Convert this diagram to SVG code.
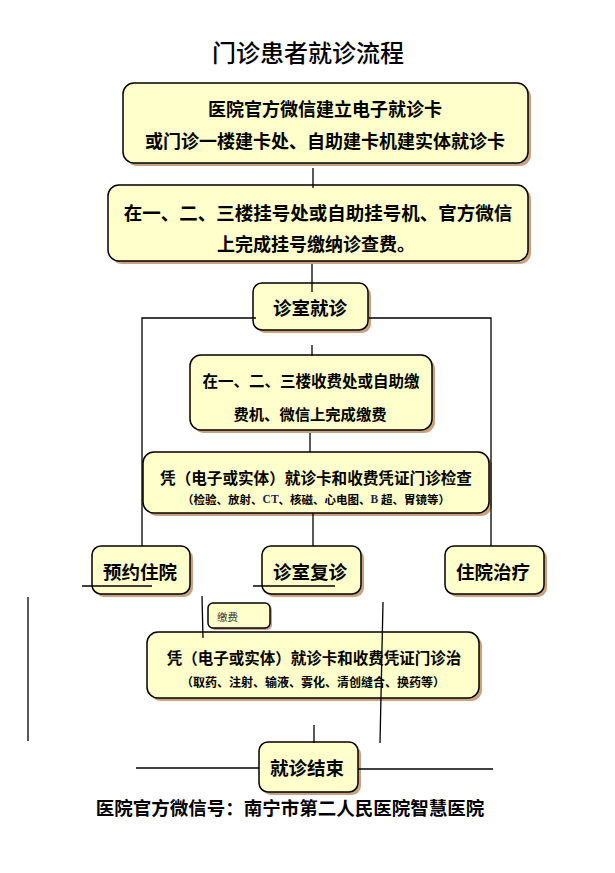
<svg xmlns="http://www.w3.org/2000/svg" width="615" height="873" viewBox="0 0 615 873">
<style>
.bg{fill:#ffffff}
.sh{fill:#c9a280}
.bx{fill:#ffffcc;stroke:#000;stroke-width:1.5}
.t{font-family:"Noto Sans CJK SC","Noto Sans",sans-serif;font-weight:bold;fill:#000;text-anchor:middle;dominant-baseline:central}
.ln{stroke:#000;stroke-width:1.3;fill:none}
.lat{font-family:"Liberation Serif",serif;fill:#1c1c5a}
</style>
<rect class="bg" x="0" y="0" width="615" height="873"/>
<text x="308" y="51" class="t" style="font-weight:500;font-size:24px">门诊患者就诊流程</text>

<g id="n1">
<rect class="sh" x="126" y="86" width="405" height="80" rx="11"/>
<rect class="bx" x="123" y="83" width="405" height="80" rx="11"/>
<text class="t" x="325" y="108" style="font-size:18px">医院官方微信建立电子就诊卡</text>
<text class="t" x="325" y="140" style="font-size:18px">或门诊一楼建卡处、自助建卡机建实体就诊卡</text>
</g>

<g id="n2">
<rect class="sh" x="111" y="188" width="420" height="76" rx="11"/>
<rect class="bx" x="108" y="185" width="420" height="76" rx="11"/>
<text class="t" x="318" y="212" style="font-size:18.5px">在一、二、三楼挂号处或自助挂号机、官方微信</text>
<text class="t" x="316" y="243" style="font-size:18px">上完成挂号缴纳诊查费。</text>
</g>

<g id="n3">
<rect class="sh" x="256" y="286" width="115" height="47" rx="9"/>
<rect class="bx" x="253" y="283" width="115" height="47" rx="9"/>
<text class="t" x="310" y="307" style="font-size:18.5px">诊室就诊</text>
</g>

<g id="n4">
<rect class="sh" x="193" y="358" width="242" height="75" rx="11"/>
<rect class="bx" x="190" y="355" width="242" height="75" rx="11"/>
<text class="t" x="311" y="380" style="font-size:15.5px">在一、二、三楼收费处或自助缴</text>
<text class="t" x="310" y="413" style="font-size:15.3px">费机、微信上完成缴费</text>
</g>

<g id="n5">
<rect class="sh" x="146" y="455" width="346" height="61" rx="11"/>
<rect class="bx" x="143" y="452" width="346" height="61" rx="11"/>
<text class="t" x="316" y="477" style="font-size:15.6px">凭（电子或实体）就诊卡和收费凭证门诊检查</text>
<text class="t" x="316" y="499" style="font-size:11.5px">（检验、放射、<tspan class="lat">CT</tspan>、核磁、心电图、<tspan class="lat">B</tspan> 超、胃镜等）</text>
</g>

<g id="n6">
<rect class="sh" x="95" y="549" width="98" height="48" rx="9"/>
<rect class="bx" x="92" y="546" width="98" height="48" rx="9"/>
<text class="t" x="140" y="571" style="font-size:18.5px">预约住院</text>
</g>

<g id="n7">
<rect class="sh" x="265" y="549" width="99" height="48" rx="9"/>
<rect class="bx" x="262" y="546" width="99" height="48" rx="9"/>
<text class="t" x="310" y="571" style="font-size:18.5px">诊室复诊</text>
</g>

<g id="n8">
<rect class="sh" x="448" y="549" width="99" height="48" rx="9"/>
<rect class="bx" x="445" y="546" width="99" height="48" rx="9"/>
<text class="t" x="493" y="571" style="font-size:18.5px">住院治疗</text>
</g>

<g id="n9">
<rect class="sh" x="210" y="605" width="62" height="25" rx="5"/>
<rect class="bx" x="208" y="603" width="62" height="25" rx="5"/>
<text class="t" x="217" y="616" style="font-size:10.5px;font-weight:normal;text-anchor:start;fill:#333">缴费</text>
</g>

<g id="n10">
<rect class="sh" x="150" y="635" width="332" height="66" rx="11"/>
<rect class="bx" x="147" y="632" width="332" height="66" rx="11"/>
<text class="t" x="314" y="657" style="font-size:15.5px">凭（电子或实体）就诊卡和收费凭证门诊治</text>
<text class="t" x="313" y="681" style="font-size:12px">（取药、注射、输液、雾化、清创缝合、换药等）</text>
</g>

<g id="n11">
<rect class="sh" x="262" y="745" width="99" height="50" rx="9"/>
<rect class="bx" x="259" y="742" width="99" height="50" rx="9"/>
<text class="t" x="307" y="767" style="font-size:18.5px">就诊结束</text>
</g>

<g id="connectors">
<line class="ln" x1="313" y1="168" x2="313" y2="188"/>
<line class="ln" x1="312" y1="264" x2="312" y2="292"/>
<polyline class="ln" points="256,318 142,318 142,546"/>
<polyline class="ln" points="369,318 491,318 491,546"/>
<line class="ln" x1="312" y1="345" x2="312" y2="356"/>
<line class="ln" x1="310" y1="433" x2="310" y2="452"/>
<line class="ln" x1="313" y1="513" x2="313" y2="546"/>
<line class="ln" x1="82" y1="586" x2="152" y2="586"/>
<line class="ln" x1="253" y1="586" x2="335" y2="586"/>
<line class="ln" x1="202" y1="596" x2="203" y2="638"/>
<line class="ln" x1="28" y1="597" x2="28" y2="741"/>
<line class="ln" x1="383" y1="602" x2="380" y2="743"/>
<line class="ln" x1="314" y1="725" x2="314" y2="743"/>
<line class="ln" x1="136" y1="768" x2="259" y2="768"/>
<line class="ln" x1="358" y1="769" x2="493" y2="769"/>
</g>

<text class="t" x="290" y="807" style="font-size:18.5px">医院官方微信号：南宁市第二人民医院智慧医院</text>
</svg>
